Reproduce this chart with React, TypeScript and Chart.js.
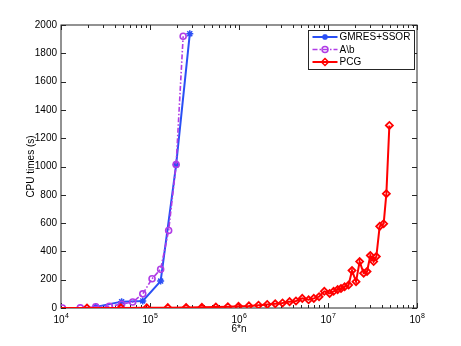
import React, { useEffect, useRef } from "react";
import { Chart, registerables } from "chart.js";

Chart.register(...registerables);

// ---- data (x = 6*n, y = CPU time in seconds) ----
const gmresN = [24576, 48000, 82944, 131712, 196608, 279936];
const gmresT = [8, 45, 50, 190, 1012, 1938];

const directN = [10368, 16464, 24576, 34992, 48000, 63888, 82944, 105456, 131712, 162000, 196608, 235824];
const directT = [0.5, 1, 9, 12, 27, 42, 100, 207, 274, 548, 1014, 1921];

const pcgN = [
  6000, 19600, 47000, 92000, 158600, 254700, 382500, 549800, 750000, 987000,
  1292000, 1657000, 2076000, 2554000, 3085000, 3700000, 4366000, 5139000, 6050000, 6925000,
  7940000, 9087000, 10430000, 11560000, 12820000, 14000000, 15370000, 17050000, 18620000, 20650000,
  22670000, 25140000, 27460000, 29910000, 32580000, 34940000, 38060000, 42220000, 45270000, 48920000,
];
const pcgT = [
  0.2, 0.4, 0.8, 1.5, 2.5, 3.5, 5, 7, 9, 12,
  15, 20, 25, 30, 36, 45, 50, 68, 58, 68,
  80, 118, 103, 118, 130, 138, 150, 162, 265, 186,
  328, 246, 258, 371, 328, 364, 577, 596, 808, 1290,
];

const xDecades = [4, 5, 6, 7, 8];
const yTicks = [0, 200, 400, 600, 800, 1000, 1200, 1400, 1600, 1800, 2000];
const seriesNames = ["GMRES+SSOR", "A\\b", "PCG"];
const xTitle = "6*n";
const yTitle = "CPU times (s)";

const BLUE = "#2a4ff5";
const PURPLE = "#b03ce6";
const RED = "#ff0000";
const FONT = "'Liberation Sans', Arial, Helvetica, sans-serif";

const toPts = (xs: number[], ys: number[]) => xs.map((x, i) => ({ x, y: ys[i] }));

function drawMarker(ctx: CanvasRenderingContext2D, kind: string, x: number, y: number, r: number) {
  ctx.beginPath();
  if (kind === "star") {
    ctx.moveTo(x - r, y); ctx.lineTo(x + r, y);
    ctx.moveTo(x, y - r); ctx.lineTo(x, y + r);
    const d = r * 0.707;
    ctx.moveTo(x - d, y - d); ctx.lineTo(x + d, y + d);
    ctx.moveTo(x - d, y + d); ctx.lineTo(x + d, y - d);
  } else if (kind === "circle") {
    ctx.arc(x, y, r, 0, Math.PI * 2);
  } else {
    ctx.moveTo(x, y - r); ctx.lineTo(x + r, y); ctx.lineTo(x, y + r); ctx.lineTo(x - r, y); ctx.closePath();
  }
  ctx.stroke();
}

const axesPlugin = {
  id: "matlabAxes",
  beforeDatasetsDraw(chart: any) {
    const { ctx, chartArea } = chart;
    const { left, right, top, bottom } = chartArea;
    const xs = chart.scales.x;
    const ys = chart.scales.y;
    ctx.save();
    ctx.fillStyle = "#ffffff";
    ctx.fillRect(left, top, right - left, bottom - top);
    ctx.strokeStyle = "#262626";
    ctx.lineWidth = 1;
    ctx.strokeRect(Math.round(left), Math.round(top), Math.round(right - left), Math.round(bottom - top));

    ctx.beginPath();
    // x ticks
    xDecades.forEach((d) => {
      const px = Math.round(xs.getPixelForValue(Math.pow(10, d))) + 0.5;
      ctx.moveTo(px, bottom); ctx.lineTo(px, bottom - 5);
      ctx.moveTo(px, top); ctx.lineTo(px, top + 5);
      if (d < xDecades[xDecades.length - 1]) {
        for (let m = 2; m <= 9; m++) {
          const mp = Math.round(xs.getPixelForValue(m * Math.pow(10, d))) + 0.5;
          ctx.moveTo(mp, bottom); ctx.lineTo(mp, bottom - 3);
          ctx.moveTo(mp, top); ctx.lineTo(mp, top + 3);
        }
      }
    });
    // y ticks
    yTicks.forEach((v) => {
      const py = Math.round(ys.getPixelForValue(v)) + 0.5;
      ctx.moveTo(left, py); ctx.lineTo(left + 5, py);
      ctx.moveTo(right, py); ctx.lineTo(right - 5, py);
    });
    ctx.stroke();

    // labels
    ctx.fillStyle = "#000000";
    ctx.font = `10px ${FONT}`;
    ctx.textAlign = "right";
    ctx.textBaseline = "middle";
    yTicks.forEach((v) => {
      ctx.fillText(String(v), left - 4, ys.getPixelForValue(v));
    });
    xDecades.forEach((d) => {
      const px = xs.getPixelForValue(Math.pow(10, d));
      ctx.font = `10px ${FONT}`;
      const w1 = ctx.measureText("10").width;
      ctx.font = `7px ${FONT}`;
      const w2 = ctx.measureText(String(d)).width;
      const x0 = px - (w1 + w2) / 2;
      ctx.textAlign = "left";
      ctx.textBaseline = "alphabetic";
      ctx.font = `10px ${FONT}`;
      ctx.fillText("10", x0, bottom + 15);
      ctx.font = `7px ${FONT}`;
      ctx.fillText(String(d), x0 + w1 + 0.5, bottom + 10);
    });
    ctx.font = `10px ${FONT}`;
    ctx.textAlign = "center";
    ctx.textBaseline = "middle";
    ctx.fillText(xTitle, (left + right) / 2, bottom + 21);
    ctx.save();
    ctx.translate(left - 30, (top + bottom) / 2);
    ctx.rotate(-Math.PI / 2);
    ctx.fillText(yTitle, 0, 0);
    ctx.restore();
    ctx.restore();
  },
};

const legendPlugin = {
  id: "matlabLegend",
  afterDatasetsDraw(chart: any) {
    const { ctx, chartArea } = chart;
    const bx = Math.round(chartArea.right - 109) + 0.5;
    const by = Math.round(chartArea.top + 5) + 0.5;
    const bw = 106;
    const bh = 39;
    ctx.save();
    ctx.fillStyle = "#ffffff";
    ctx.fillRect(bx, by, bw, bh);
    ctx.strokeStyle = "#262626";
    ctx.lineWidth = 1;
    ctx.strokeRect(bx, by, bw, bh);
    const styles = [
      { color: BLUE, dash: [] as number[], marker: "star", r: 3, w: 2 },
      { color: PURPLE, dash: [5, 2, 1.5, 2], marker: "circle", r: 3, w: 1.6 },
      { color: RED, dash: [] as number[], marker: "diamond", r: 3.5, w: 2 },
    ];
    styles.forEach((s, i) => {
      const y = by + 6.5 + i * 12.5;
      ctx.strokeStyle = s.color;
      ctx.lineWidth = s.w;
      ctx.setLineDash(s.dash);
      ctx.beginPath();
      ctx.moveTo(bx + 4, y);
      ctx.lineTo(bx + 29, y);
      ctx.stroke();
      ctx.setLineDash([]);
      ctx.lineWidth = 1.5;
      drawMarker(ctx, s.marker, bx + 16.5, y, s.r);
      ctx.fillStyle = "#000000";
      ctx.font = `10px ${FONT}`;
      ctx.textAlign = "left";
      ctx.textBaseline = "middle";
      ctx.fillText(seriesNames[i], bx + 31, y + 0.5);
    });
    ctx.restore();
  },
};

export default function App() {
  const ref = useRef<HTMLCanvasElement>(null);
  useEffect(() => {
    if (!ref.current) return;
    const chart = new Chart(ref.current, {
      type: "scatter",
      data: {
        datasets: [
          {
            label: seriesNames[0],
            data: toPts(gmresN, gmresT),
            showLine: true,
            borderColor: BLUE,
            borderWidth: 2,
            pointStyle: "star",
            pointRadius: 3.5,
            pointBorderWidth: 1.5,
            pointBorderColor: BLUE,
            pointBackgroundColor: "rgba(0,0,0,0)",
            order: 2,
          },
          {
            label: seriesNames[1],
            data: toPts(directN, directT),
            showLine: true,
            borderColor: PURPLE,
            borderWidth: 1.6,
            borderDash: [5, 2, 1.5, 2],
            pointStyle: "circle",
            pointRadius: 3,
            pointBorderWidth: 1.6,
            pointBorderColor: PURPLE,
            pointBackgroundColor: "rgba(0,0,0,0)",
            order: 1,
          },
          {
            label: seriesNames[2],
            data: toPts(pcgN, pcgT),
            showLine: true,
            borderColor: RED,
            borderWidth: 2,
            pointStyle: "rectRot",
            pointRadius: 3.5,
            pointBorderWidth: 1.8,
            pointBorderColor: RED,
            pointBackgroundColor: "rgba(0,0,0,0)",
            order: 0,
          },
        ],
      },
      options: {
        responsive: false,
        devicePixelRatio: 1,
        animation: false,
        layout: { padding: { left: 61, right: 44, top: 25, bottom: 38 } },
        scales: {
          x: { type: "logarithmic", min: 1e4, max: 1e8, display: false },
          y: { type: "linear", min: 0, max: 2000, display: false },
        },
        plugins: {
          legend: { display: false },
          tooltip: { enabled: false },
        },
      },
      plugins: [axesPlugin, legendPlugin],
    } as any);
    return () => chart.destroy();
  }, []);
  return (
    <canvas
      ref={ref}
      width={461}
      height={346}
      style={{ position: "fixed", left: 0, top: 0, width: 461, height: 346, background: "#ffffff" }}
    />
  );
}
